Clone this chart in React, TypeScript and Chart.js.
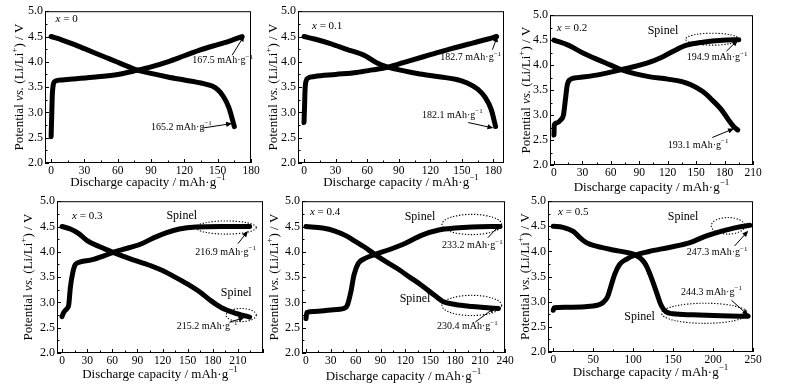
import React, { useEffect, useRef } from "react";
import { Chart, registerables } from "chart.js";
Chart.register(...registerables);

const FONT = '"Liberation Serif", "Times New Roman", serif';

// ---- tick labels ----
const yTickValues = [2.0, 2.5, 3.0, 3.5, 4.0, 4.5, 5.0];
const xTicks180 = [0, 30, 60, 90, 120, 150, 180];
const xTicks210 = [0, 30, 60, 90, 120, 150, 180, 210];
const xTicks240 = [0, 30, 60, 90, 120, 150, 180, 210, 240];
const xTicks250 = [0, 50, 100, 150, 200, 250];

// ---- series: [capacity mAh/g, potential V] ----
const chargeX00: [number, number][] = [[0, 2.52], [0.5, 2.9], [1, 3.3], [2, 3.55], [4, 3.62], [10, 3.64], [20, 3.66], [40, 3.7], [60, 3.75], [77, 3.83], [90, 3.9], [105, 4.0], [120, 4.12], [135, 4.24], [150, 4.34], [162, 4.42], [172, 4.5]];
const dischargeX00: [number, number][] = [[0, 4.5], [10, 4.43], [20, 4.35], [30, 4.26], [40, 4.17], [50, 4.08], [60, 3.99], [70, 3.9], [77, 3.84], [90, 3.77], [105, 3.7], [120, 3.64], [135, 3.58], [145, 3.52], [150, 3.45], [155, 3.32], [160, 3.1], [165, 2.72]];

const chargeX01: [number, number][] = [[0, 2.8], [0.5, 3.1], [1, 3.45], [2, 3.62], [4, 3.68], [10, 3.71], [30, 3.75], [50, 3.79], [65, 3.84], [79, 3.89], [100, 4.02], [120, 4.14], [140, 4.26], [160, 4.37], [175, 4.45], [183, 4.5]];
const dischargeX01: [number, number][] = [[0, 4.5], [10, 4.45], [25, 4.36], [40, 4.25], [58, 4.12], [70, 3.97], [79, 3.9], [95, 3.82], [110, 3.76], [130, 3.7], [145, 3.65], [155, 3.58], [165, 3.46], [172, 3.3], [178, 3.05], [182, 2.72]];

const chargeX02: [number, number][] = [[0, 2.6], [0.3, 2.8], [3, 2.84], [7, 2.9], [10, 3.0], [12, 3.3], [14, 3.6], [17, 3.71], [25, 3.75], [45, 3.8], [71, 3.91], [98, 4.04], [115, 4.17], [130, 4.32], [140, 4.4], [157, 4.46], [178, 4.5], [195, 4.51]];
const dischargeX02: [number, number][] = [[0, 4.5], [15, 4.4], [30, 4.25], [45, 4.12], [60, 4.0], [71, 3.91], [85, 3.83], [100, 3.77], [120, 3.72], [135, 3.67], [145, 3.6], [157, 3.47], [167, 3.3], [177, 3.1], [185, 2.88], [190, 2.76], [194, 2.7]];

const chargeX03: [number, number][] = [[0, 2.72], [2, 2.8], [6, 2.88], [8, 2.95], [10, 3.3], [13, 3.6], [16, 3.75], [22, 3.8], [35, 3.84], [50, 3.92], [61, 3.99], [80, 4.08], [95, 4.16], [110, 4.28], [125, 4.38], [140, 4.45], [160, 4.49], [190, 4.5], [224, 4.5]];
const dischargeX03: [number, number][] = [[0, 4.5], [10, 4.45], [20, 4.36], [30, 4.22], [45, 4.1], [61, 3.99], [80, 3.87], [100, 3.76], [120, 3.63], [135, 3.5], [150, 3.36], [165, 3.2], [178, 3.03], [190, 2.9], [205, 2.8], [224, 2.71]];

const chargeX04: [number, number][] = [[0, 2.68], [1, 2.8], [10, 2.82], [30, 2.85], [46, 2.88], [50, 2.95], [54, 3.2], [58, 3.55], [63, 3.77], [70, 3.86], [82, 3.94], [100, 4.04], [120, 4.17], [140, 4.33], [160, 4.43], [180, 4.47], [200, 4.49], [234, 4.5]];
const dischargeX04: [number, number][] = [[0, 4.5], [20, 4.47], [35, 4.41], [48, 4.32], [60, 4.2], [70, 4.1], [82, 3.96], [95, 3.82], [110, 3.67], [125, 3.5], [140, 3.33], [155, 3.14], [165, 3.02], [180, 2.96], [200, 2.92], [215, 2.9], [232, 2.88]];

const chargeX05: [number, number][] = [[0, 2.83], [1, 2.88], [15, 2.89], [40, 2.9], [55, 2.93], [62, 2.98], [68, 3.1], [72, 3.3], [77, 3.55], [83, 3.74], [92, 3.85], [103, 3.93], [120, 4.0], [145, 4.08], [170, 4.17], [190, 4.3], [210, 4.4], [230, 4.48], [246, 4.52]];
const dischargeX05: [number, number][] = [[0, 4.5], [12, 4.48], [25, 4.4], [33, 4.28], [42, 4.17], [55, 4.1], [75, 4.03], [95, 3.97], [103, 3.93], [112, 3.82], [117, 3.7], [121, 3.55], [125, 3.38], [130, 3.15], [135, 2.93], [141, 2.8], [150, 2.76], [175, 2.74], [210, 2.72], [244, 2.71]];

type Seg = { t: string; it?: boolean; sup?: boolean };
type Note =
  | { kind: "text"; x: number; y: number; segs: Seg[]; size: number; align: "left" | "center" }
  | { kind: "arrow"; x1: number; y1: number; x2: number; y2: number }
  | { kind: "ellipse"; cx: number; cy: number; rx: number; ry: number };

const cap = (v: string, x: number, y: number): Note => ({ kind: "text", x, y, size: 10, align: "left", segs: [{ t: v + " mAh·g" }, { t: "−1", sup: true }] });
const xLab = (v: string, x: number, y: number): Note => ({ kind: "text", x, y, size: 11, align: "left", segs: [{ t: "x", it: true }, { t: " = " + v }] });
const spinel = (x: number, y: number): Note => ({ kind: "text", x, y, size: 12, align: "center", segs: [{ t: "Spinel" }] });

type Panel = {
  L: number; R: number; T: number; B: number;
  xMin: number; xMax: number; xTicks: number[]; minor: number;
  yTitleX: number; xTitleY: number;
  charge: [number, number][]; discharge: [number, number][];
  notes: Note[];
};

const panels: Panel[] = [
  {
    L: 45, R: 251, T: 10, B: 163, xMin: -5.5, xMax: 180, xTicks: xTicks180, minor: 15, yTitleX: 20, xTitleY: 183,
    charge: chargeX00, discharge: dischargeX00,
    notes: [xLab("0", 4, 4.84), cap("167.5", 127, 4.02), { kind: "arrow", x1: 163, y1: 4.13, x2: 174, y2: 4.52 },
      cap("165.2", 90, 2.71), { kind: "arrow", x1: 136, y1: 2.69, x2: 163, y2: 2.78 }],
  },
  {
    L: 298, R: 504, T: 10, B: 163, xMin: -5.7, xMax: 190, xTicks: xTicks180, minor: 15, yTitleX: 274, xTitleY: 183,
    charge: chargeX01, discharge: dischargeX01,
    notes: [xLab("0.1", 7.6, 4.71), cap("182.7", 129.5, 4.08), { kind: "arrow", x1: 179, y1: 4.24, x2: 183.8, y2: 4.51 },
      cap("182.1", 112, 2.94), { kind: "arrow", x1: 156, y1: 2.8, x2: 180, y2: 2.69 }],
  },
  {
    L: 550, R: 753, T: 14, B: 165, xMin: -4.2, xMax: 210, xTicks: xTicks210, minor: 15, yTitleX: 527, xTitleY: 188,
    charge: chargeX02, discharge: dischargeX02,
    notes: [xLab("0.2", 3, 4.74), spinel(115, 4.68), { kind: "ellipse", cx: 167, cy: 4.52, rx: 28, ry: 0.12 },
      cap("194.9", 140, 4.15), { kind: "arrow", x1: 182, y1: 4.28, x2: 194, y2: 4.5 },
      cap("193.1", 120, 2.4), { kind: "arrow", x1: 167, y1: 2.55, x2: 190, y2: 2.73 }],
  },
  {
    L: 57, R: 263, T: 200, B: 353, xMin: -6, xMax: 240, xTicks: xTicks210, minor: 15, yTitleX: 29, xTitleY: 375,
    charge: chargeX03, discharge: dischargeX03,
    notes: [xLab("0.3", 12, 4.71), spinel(143, 4.72), { kind: "ellipse", cx: 196, cy: 4.48, rx: 36, ry: 0.13 },
      cap("216.9", 159, 3.99), { kind: "arrow", x1: 210, y1: 4.16, x2: 222, y2: 4.41 },
      spinel(208, 3.18), { kind: "ellipse", cx: 214, cy: 2.75, rx: 18, ry: 0.13 },
      cap("215.2", 137, 2.52), { kind: "arrow", x1: 200, y1: 2.61, x2: 218, y2: 2.7 }],
  },
  {
    L: 302, R: 505, T: 200, B: 353, xMin: -4.8, xMax: 240, xTicks: xTicks240, minor: 15, yTitleX: 275, xTitleY: 377,
    charge: chargeX04, discharge: dischargeX04,
    notes: [xLab("0.4", 4.8, 4.79), spinel(137.5, 4.7), { kind: "ellipse", cx: 200, cy: 4.54, rx: 36, ry: 0.2 },
      cap("233.2", 164, 4.12), { kind: "arrow", x1: 219.5, y1: 4.28, x2: 234, y2: 4.54 },
      spinel(131.5, 3.08), { kind: "ellipse", cx: 200, cy: 2.94, rx: 36, ry: 0.2 },
      cap("230.4", 158, 2.52), { kind: "arrow", x1: 204, y1: 2.61, x2: 228, y2: 2.9 }],
  },
  {
    L: 548, R: 753, T: 200, B: 352, xMin: -6.6, xMax: 250, xTicks: xTicks250, minor: 25, yTitleX: 526, xTitleY: 373,
    charge: chargeX05, discharge: dischargeX05,
    notes: [xLab("0.5", 6, 4.79), spinel(162.5, 4.68), { kind: "ellipse", cx: 218.75, cy: 4.51, rx: 21, ry: 0.165 },
      cap("247.3", 167, 3.98), { kind: "arrow", x1: 227, y1: 4.11, x2: 244, y2: 4.41 },
      cap("244.3", 160, 3.19), { kind: "arrow", x1: 223, y1: 3.03, x2: 244, y2: 2.73 },
      spinel(108, 2.7), { kind: "ellipse", cx: 189.6, cy: 2.77, rx: 54, ry: 0.2 }],
  },
];

const PAD_L = 45, PAD_T = 8, PAD_R = 10, PAD_B = 35;

function fontFor(s: Seg, size: number) {
  return `${s.it ? "italic " : ""}${s.sup ? Math.round(size * 0.72) : size}px ${FONT}`;
}

function drawRich(ctx: CanvasRenderingContext2D, segs: Seg[], x: number, y: number, size: number, align: "left" | "center") {
  const widths = segs.map((s) => { ctx.font = fontFor(s, size); return ctx.measureText(s.t).width; });
  const total = widths.reduce((a, b) => a + b, 0);
  let cx = align === "center" ? x - total / 2 : x;
  ctx.textAlign = "left";
  ctx.textBaseline = "middle";
  segs.forEach((s, i) => {
    ctx.font = fontFor(s, size);
    ctx.fillText(s.t, cx, s.sup ? y - size * 0.38 : y);
    cx += widths[i];
  });
}

function makePlugin(p: Panel) {
  return {
    id: "decor",
    afterDraw(chart: any) {
      const { ctx, chartArea: a, scales } = chart;
      const xs = scales.x, ys = scales.y;
      ctx.save();
      ctx.strokeStyle = "#000";
      ctx.fillStyle = "#000";
      ctx.lineWidth = 1;
      ctx.setLineDash([]);
      ctx.strokeRect(a.left + 0.5, a.top + 0.5, a.right - a.left - 1, a.bottom - a.top - 1);
      // x ticks (inward)
      ctx.beginPath();
      for (let v = 0; v <= p.xMax + 1e-6; v += p.minor) {
        const px = Math.round(xs.getPixelForValue(v)) + 0.5;
        const major = p.xTicks.includes(v) || Math.abs((v / (p.minor * 2)) - Math.round(v / (p.minor * 2))) < 1e-6;
        const len = major ? 4 : 2.5;
        ctx.moveTo(px, a.bottom);
        ctx.lineTo(px, a.bottom - len);
      }
      for (let v = 2; v <= 5 + 1e-6; v += 0.25) {
        const py = Math.round(ys.getPixelForValue(v)) + 0.5;
        const major = Math.abs(v * 2 - Math.round(v * 2)) < 1e-6;
        const len = major ? 4 : 2.5;
        ctx.moveTo(a.left, py);
        ctx.lineTo(a.left + len, py);
      }
      ctx.stroke();

      // axis titles
      const midY = (a.top + a.bottom) / 2;
      const midX = (a.left + a.right) / 2;
      ctx.save();
      ctx.translate(p.yTitleX - (p.L - PAD_L), midY);
      ctx.rotate(-Math.PI / 2);
      drawRich(ctx, [{ t: "Potential " }, { t: "vs.", it: true }, { t: " (Li/Li" }, { t: "+", sup: true }, { t: ") / V" }], 0, 0, 13, "center");
      ctx.restore();
      drawRich(ctx, [{ t: "Discharge capacity / mAh·g" }, { t: "−1", sup: true }], midX, p.xTitleY - (p.T - PAD_T), 13, "center");

      // annotations
      for (const n of p.notes) {
        if (n.kind === "text") {
          drawRich(ctx, n.segs, xs.getPixelForValue(n.x), ys.getPixelForValue(n.y), n.size, n.align);
        } else if (n.kind === "arrow") {
          const x1 = xs.getPixelForValue(n.x1), y1 = ys.getPixelForValue(n.y1);
          const x2 = xs.getPixelForValue(n.x2), y2 = ys.getPixelForValue(n.y2);
          const ang = Math.atan2(y2 - y1, x2 - x1);
          const hl = 6, hw = 2.6;
          ctx.lineWidth = 1;
          ctx.beginPath();
          ctx.moveTo(x1, y1);
          ctx.lineTo(x2 - Math.cos(ang) * hl * 0.8, y2 - Math.sin(ang) * hl * 0.8);
          ctx.stroke();
          ctx.beginPath();
          ctx.moveTo(x2, y2);
          ctx.lineTo(x2 - Math.cos(ang) * hl - Math.sin(ang) * hw, y2 - Math.sin(ang) * hl + Math.cos(ang) * hw);
          ctx.lineTo(x2 - Math.cos(ang) * hl + Math.sin(ang) * hw, y2 - Math.sin(ang) * hl - Math.cos(ang) * hw);
          ctx.closePath();
          ctx.fill();
        } else if (n.kind === "ellipse") {
          const cx = xs.getPixelForValue(n.cx), cy = ys.getPixelForValue(n.cy);
          const rx = Math.abs(xs.getPixelForValue(n.cx + n.rx) - cx);
          const ry = Math.abs(ys.getPixelForValue(n.cy + n.ry) - cy);
          ctx.lineWidth = 1.1;
          ctx.setLineDash([1.3, 1.7]);
          ctx.beginPath();
          ctx.ellipse(cx, cy, rx, ry, 0, 0, Math.PI * 2);
          ctx.stroke();
          ctx.setLineDash([]);
        }
      }
      ctx.restore();
    },
  };
}

function PanelChart({ p }: { p: Panel }) {
  const ref = useRef<HTMLCanvasElement | null>(null);
  const W = p.R - p.L + PAD_L + PAD_R;
  const H = p.B - p.T + PAD_T + PAD_B;
  useEffect(() => {
    if (!ref.current) return;
    const line = (pts: [number, number][]) => ({
      data: pts.map(([x, y]) => ({ x, y })),
      borderColor: "#000",
      borderWidth: 5,
      pointRadius: 0,
      fill: false,
      cubicInterpolationMode: "monotone" as const,
      borderCapStyle: "round" as const,
      borderJoinStyle: "round" as const,
    });
    const chart = new Chart(ref.current, {
      type: "line",
      data: { datasets: [line(p.charge), line(p.discharge)] as any },
      options: {
        animation: false,
        responsive: false,
        devicePixelRatio: 1,
        layout: { padding: { left: 0, top: PAD_T, right: PAD_R, bottom: 0 } },
        plugins: { legend: { display: false }, tooltip: { enabled: false }, title: { display: false } },
        scales: {
          x: {
            type: "linear", min: p.xMin, max: p.xMax,
            grid: { display: false, drawTicks: false, tickLength: 0 }, border: { display: false },
            afterBuildTicks: (s: any) => { s.ticks = p.xTicks.map((v) => ({ value: v })); },
            afterFit: (s: any) => { s.height = PAD_B; },
            ticks: { font: { family: FONT, size: 11.5 }, color: "#000", padding: 1, maxRotation: 0, autoSkip: false },
          },
          y: {
            type: "linear", min: 2, max: 5,
            grid: { display: false, drawTicks: false, tickLength: 0 }, border: { display: false },
            afterBuildTicks: (s: any) => { s.ticks = yTickValues.map((v) => ({ value: v })); },
            afterFit: (s: any) => { s.width = PAD_L; },
            ticks: { font: { family: FONT, size: 12 }, color: "#000", padding: 2, callback: (v: any) => Number(v).toFixed(1) },
          },
        },
      } as any,
      plugins: [makePlugin(p)],
    });
    return () => chart.destroy();
  }, []);
  return (
    <canvas ref={ref} width={W} height={H}
      style={{ position: "absolute", left: p.L - PAD_L, top: p.T - PAD_T, width: W, height: H }} />
  );
}

export default function App() {
  return (
    <div style={{ position: "absolute", left: 0, top: 0, width: 802, height: 390, background: "#fff" }}>
      {panels.map((p, i) => <PanelChart key={i} p={p} />)}
    </div>
  );
}
